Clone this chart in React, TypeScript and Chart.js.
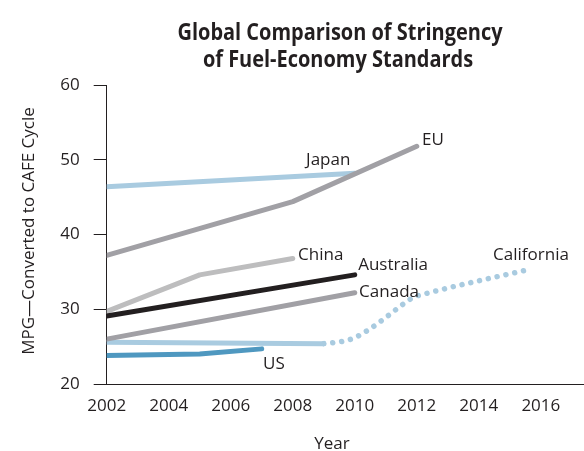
import React, { useEffect, useRef } from "react";
import { Chart, registerables } from "chart.js";

Chart.register(...registerables);

// ---- data ----
const xTickYears = [2002, 2004, 2006, 2008, 2010, 2012, 2014, 2016];
const yTickValues = [20, 30, 40, 50, 60];

const japanYears = [2002, 2010];
const japanMpg = [46.4, 48.2];

const euYears = [2002, 2008, 2012];
const euMpg = [37.2, 44.4, 51.8];

const chinaYears = [2002, 2005, 2008];
const chinaMpg = [29.7, 34.6, 36.8];

const australiaYears = [2002, 2010];
const australiaMpg = [29.1, 34.6];

const canadaYears = [2002, 2010];
const canadaMpg = [26.0, 32.2];

const californiaYears = [2002, 2009];
const californiaMpg = [25.6, 25.4];

const californiaProjYears = [2009, 2009.6, 2010, 2010.5, 2011, 2011.5, 2011.9, 2012.3, 2015.7];
const californiaProjMpg = [25.4, 25.7, 26.2, 27.4, 28.9, 30.5, 31.6, 32.1, 35.4];

const usYears = [2002, 2005, 2007];
const usMpg = [23.8, 24.0, 24.7];

// series label anchors (data space: year, mpg) – left aligned, baseline
const labelNames = ["Japan", "EU", "China", "Australia", "California", "Canada", "US"];
const labelYears = [2008.43, 2012.17, 2008.17, 2010.11, 2014.46, 2010.14, 2007.04];
const labelMpg = [49.3, 51.97, 36.59, 35.25, 36.59, 31.64, 22.0];

const titleLines = ["Global Comparison of Stringency", "of Fuel-Economy Standards"];
const yTitle = "MPG\u2014Converted to CAFE Cycle";
const xTitle = "Year";

// ---- styles ----
const FONT = "'Open Sans', 'Noto Sans', sans-serif";
const TEXT = "#231f20";
const LIGHT_BLUE = "#a9cbe0";
const GRAY = "#a1a0a5";
const LIGHT_GRAY = "#bdbdbe";
const BLACK = "#231f20";
const DARK_BLUE = "#4f98c0";

const pts = (xs: number[], ys: number[]) => xs.map((x, i) => ({ x, y: ys[i] }));

const textPlugin = {
  id: "textPlugin",
  afterDraw(chart: any) {
    const ctx = chart.ctx;
    const xs = chart.scales.x;
    const ys = chart.scales.y;
    ctx.save();
    ctx.fillStyle = TEXT;
    // title (condensed by horizontal scaling)
    ctx.font = `bold 24px ${FONT}`;
    ctx.textAlign = "center";
    ctx.textBaseline = "alphabetic";
    const w0 = ctx.measureText(titleLines[0]).width;
    const sx = 325 / w0;
    ctx.save();
    ctx.translate(340, 40);
    ctx.scale(sx, 1);
    ctx.fillText(titleLines[0], 0, 0);
    ctx.restore();
    ctx.save();
    ctx.translate(338, 67);
    ctx.scale(sx, 1);
    ctx.fillText(titleLines[1], 0, 0);
    ctx.restore();
    // series labels
    ctx.font = `17px ${FONT}`;
    ctx.textAlign = "left";
    labelNames.forEach((name, i) => {
      ctx.fillText(name, xs.getPixelForValue(labelYears[i]), ys.getPixelForValue(labelMpg[i]));
    });
    // x title
    ctx.textAlign = "center";
    ctx.fillText(xTitle, 332, 449);
    // y title
    ctx.translate(34, 231);
    ctx.rotate(-Math.PI / 2);
    ctx.fillText(yTitle, 0, 0);
    ctx.restore();
  },
};

export default function App() {
  const ref = useRef<HTMLCanvasElement>(null);
  useEffect(() => {
    if (!ref.current) return;
    const base = {
      pointRadius: 0,
      borderWidth: 5,
      borderCapStyle: "round",
      borderJoinStyle: "round",
      fill: false,
      tension: 0,
    };
    const chart = new Chart(ref.current, {
      type: "line",
      data: {
        datasets: [
          { ...base, label: "EU", data: pts(euYears, euMpg), borderColor: GRAY, order: 0 },
          { ...base, label: "Japan", data: pts(japanYears, japanMpg), borderColor: LIGHT_BLUE, order: 1 },
          { ...base, label: "China", data: pts(chinaYears, chinaMpg), borderColor: LIGHT_GRAY, order: 3 },
          { ...base, label: "Australia", data: pts(australiaYears, australiaMpg), borderColor: BLACK, order: 2 },
          { ...base, label: "Canada", data: pts(canadaYears, canadaMpg), borderColor: GRAY, order: 4 },
          { ...base, label: "California", data: pts(californiaYears, californiaMpg), borderColor: LIGHT_BLUE, order: 5 },
          {
            ...base,
            label: "California (projected)",
            data: pts(californiaProjYears, californiaProjMpg),
            borderColor: LIGHT_BLUE,
            borderWidth: 5.5,
            borderDash: [0.01, 9],
            cubicInterpolationMode: "monotone",
            order: 6,
          },
          { ...base, label: "US", data: pts(usYears, usMpg), borderColor: DARK_BLUE, order: 7 },
        ] as any,
      },
      options: {
        animation: false,
        responsive: false,
        devicePixelRatio: 1,
        layout: { padding: { top: 85, right: 1, left: 0, bottom: 0 } },
        plugins: { legend: { display: false }, tooltip: { enabled: false }, title: { display: false } },
        scales: {
          x: {
            type: "linear",
            min: 2002,
            max: 2017.36,
            afterBuildTicks: (s: any) => {
              s.ticks = xTickYears.map((v) => ({ value: v }));
            },
            afterFit: (s: any) => {
              s.height = 67;
            },
            ticks: {
              autoSkip: false,
              maxRotation: 0,
              padding: 12,
              color: TEXT,
              font: { family: FONT, size: 17 },
              callback: (v: any) => String(v),
            },
            grid: { display: true, drawOnChartArea: false, drawTicks: false },
            border: { display: true, color: BLACK, width: 1 },
          },
          y: {
            type: "linear",
            min: 20,
            max: 60,
            afterBuildTicks: (s: any) => {
              s.ticks = yTickValues.map((v) => ({ value: v }));
            },
            afterFit: (s: any) => {
              s.width = 106.7;
            },
            ticks: {
              padding: 14,
              color: TEXT,
              font: { family: FONT, size: 17 },
            },
            grid: { display: true, drawOnChartArea: false, drawTicks: true, tickLength: 13, color: BLACK },
            border: { display: true, color: BLACK, width: 1 },
          },
        },
      } as any,
      plugins: [textPlugin],
    });
    return () => chart.destroy();
  }, []);
  return (
    <div style={{ position: "absolute", left: 0, top: 0, width: 584, height: 451, background: "#fff" }}>
      <canvas ref={ref} width={584} height={451} style={{ width: 584, height: 451 }} />
    </div>
  );
}
